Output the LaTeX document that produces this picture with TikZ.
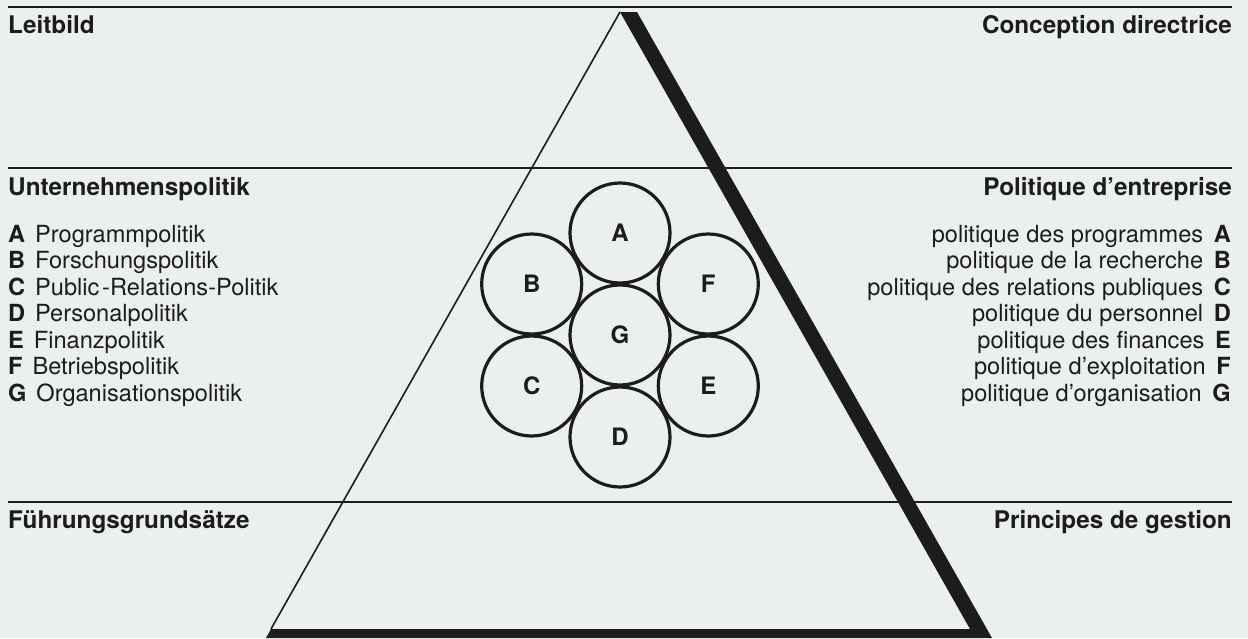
\documentclass[tikz,border=0pt]{standalone}
\usepackage{fontspec}
\setmainfont{TeX Gyre Heros}
\definecolor{paper}{RGB}{235,240,236}
\definecolor{ink}{RGB}{28,28,28}
\begin{document}
\begin{tikzpicture}[x=1pt,y=-1pt,
  rule/.style={draw=ink,line width=1.8pt},
  heading/.style={inner sep=0pt,text=ink,font=\fontsize{24.3}{26}\selectfont\bfseries},
  item/.style={inner sep=0pt,text=ink,font=\fontsize{23.6}{26}\selectfont},
  disc/.style={circle,draw=ink,line width=3.2pt,minimum size=100pt,inner sep=0pt,text=ink,font=\fontsize{24}{26}\selectfont\bfseries}]
\useasboundingbox (0,0) rectangle (1248,638);
\fill[paper] (0,0) rectangle (1248,638);
% horizontal rules
\coordinate (r1l) at (8,7);   \coordinate (r1r) at (1232,7);
\coordinate (r2l) at (8,168); \coordinate (r2r) at (1232,168);
\coordinate (r3l) at (8,502); \coordinate (r3r) at (1232,502);
\draw[rule] (r1l) -- (r1r);
\draw[rule] (r2l) -- (r2r);
\draw[rule] (r3l) -- (r3r);
% triangle
\coordinate (apex) at (620,12);
\coordinate (bl) at (271,629);
\draw[draw=ink,line width=1.6pt] (apex) -- (bl);
\fill[ink] (apex) -- (637,12) -- (992,638) -- (266,638) -- (bl) -- (970,629) -- cycle;
% circles
\node[disc] (G) at (620,335) {G};
\node[disc] (A) at (620,233) {A};
\node[disc] (D) at (620,437) {D};
\node[disc] (B) at (531.7,284) {B};
\node[disc] (F) at (708.3,284) {F};
\node[disc] (C) at (531.7,386) {C};
\node[disc] (E) at (708.3,386) {E};
% headings
\node[heading,anchor=base west] (h1l) at (8,33) {Leitbild};
\node[heading,anchor=base east] (h1r) at (1232,33) {Conception directrice};
\node[heading,anchor=base west] (h2l) at (8,195) {Unternehmenspolitik};
\node[heading,anchor=base east] (h2r) at (1232,195) {Politique d’entreprise};
\node[heading,anchor=base west] (h3l) at (8,528) {Führungsgrundsätze};
\node[heading,anchor=base east] (h3r) at (1232,528) {Principes de gestion};
% left list
\node[item,anchor=base west] (la) at (8,242) {\textbf{A}\hspace{0.42em}Programmpolitik};
\node[item,anchor=base west] (lb) at (8,268.5) {\textbf{B}\hspace{0.42em}Forschungspolitik};
\node[item,anchor=base west] (lc) at (8,295) {\textbf{C}\hspace{0.42em}Public\hspace{0.12em}-Relations-Politik};
\node[item,anchor=base west] (ld) at (8,321.5) {\textbf{D}\hspace{0.42em}Personalpolitik};
\node[item,anchor=base west] (le) at (8,348) {\textbf{E}\hspace{0.42em}Finanzpolitik};
\node[item,anchor=base west] (lf) at (8,374.5) {\textbf{F}\hspace{0.42em}Betriebspolitik};
\node[item,anchor=base west] (lg) at (8,401) {\textbf{G}\hspace{0.42em}Organisationspolitik};
% right list
\node[item,anchor=base east] (ra) at (1231,242) {politique des programmes\hspace{0.45em}\textbf{A}};
\node[item,anchor=base east] (rb) at (1231,268.5) {politique de la recherche\hspace{0.45em}\textbf{B}};
\node[item,anchor=base east] (rc) at (1231,295) {politique des relations publiques\hspace{0.45em}\textbf{C}};
\node[item,anchor=base east] (rd) at (1231,321.5) {politique du personnel\hspace{0.45em}\textbf{D}};
\node[item,anchor=base east] (re) at (1231,348) {politique des finances\hspace{0.45em}\textbf{E}};
\node[item,anchor=base east] (rf) at (1231,374.5) {politique d’exploitation\hspace{0.45em}\textbf{F}};
\node[item,anchor=base east] (rg) at (1231,401) {politique d’organisation\hspace{0.45em}\textbf{G}};
\end{tikzpicture}
\end{document}
